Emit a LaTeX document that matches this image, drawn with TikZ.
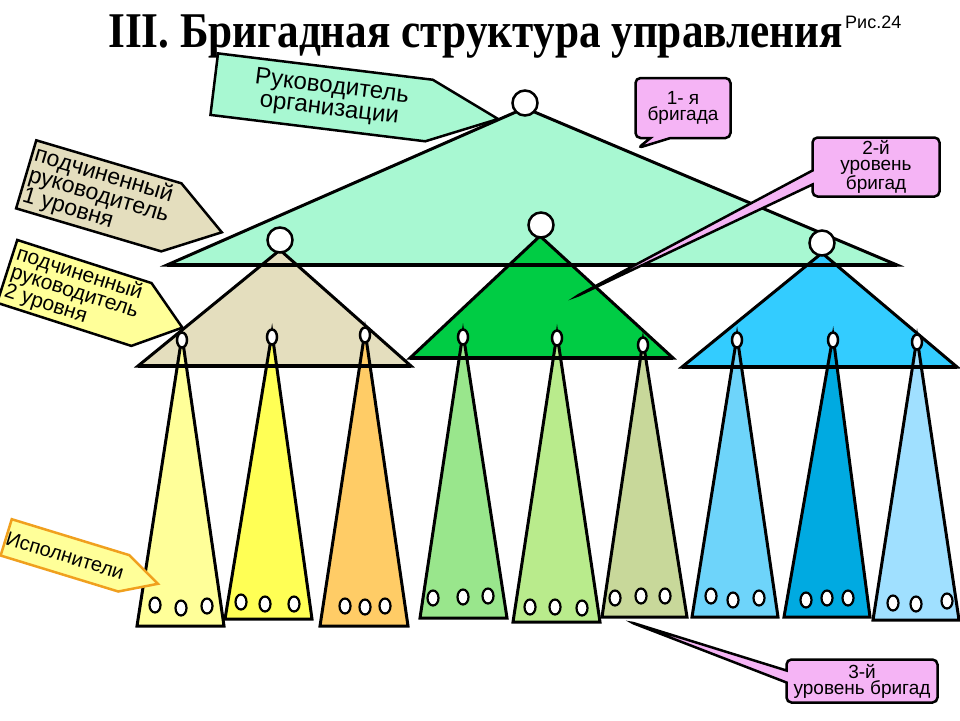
\documentclass[tikz,border=0pt]{standalone}
\usepackage{fontspec}
\setmainfont{Liberation Serif}
\setsansfont{Liberation Sans}
\usepackage{tikz}
\usetikzlibrary{positioning,shapes.geometric,shapes.symbols,shapes.callouts}
\definecolor{cmint}{RGB}{168,248,210}
\definecolor{ctan}{RGB}{228,222,190}
\definecolor{cgreen}{RGB}{0,204,68}
\definecolor{cblue}{RGB}{51,204,255}
\definecolor{ta}{RGB}{255,255,153}
\definecolor{tb}{RGB}{255,255,85}
\definecolor{tc}{RGB}{255,204,102}
\definecolor{td}{RGB}{153,230,140}
\definecolor{te}{RGB}{185,235,140}
\definecolor{tf}{RGB}{200,216,154}
\definecolor{tg}{RGB}{110,212,250}
\definecolor{th}{RGB}{0,170,225}
\definecolor{ti}{RGB}{160,224,255}
\definecolor{cpink}{RGB}{245,180,245}
\definecolor{corange}{RGB}{240,160,30}

\begin{document}
\begin{tikzpicture}[x=1pt,y=-1pt,
  lbl/.style={font=\sffamily\fontsize{24}{22}\selectfont},
  sig/.style={signal,signal to=east,draw=black,line width=2.5pt,inner sep=3pt,lbl},
  note/.style={rectangle callout,draw=black,line width=2.5pt,fill=cpink,rounded corners=5pt,
    align=center,inner sep=2pt,font=\sffamily\fontsize{19}{16}\selectfont},
  tri/.style={draw=black,line width=3pt},
  base/.style={draw=black,line width=3.5pt},
  head/.style={circle,draw=black,fill=white,line width=2.5pt,minimum size=25pt,inner sep=0pt},
  chief/.style={ellipse,draw=black,fill=white,line width=2.5pt,minimum width=10pt,minimum height=15pt,inner sep=0pt},
  work/.style={ellipse,draw=black,fill=white,line width=2.2pt,minimum width=11pt,minimum height=15pt,inner sep=0pt},
]
\useasboundingbox[fill=white] (0,0) rectangle (960,720);

% title
\node[anchor=base west,inner sep=0pt,font=\bfseries\fontsize{50}{50}\selectfont] (title) at (108,47)
  {\scalebox{0.865}[1]{III. Бригадная структура управления}};
\node[anchor=base west,inner sep=0pt,font=\sffamily\fontsize{18}{18}\selectfont] (fig) at (845,28) {Рис.24};

% 1st and 2nd level brigades
\filldraw[tri,fill=cmint] (167,265) -- (525,108) -- (897,265) -- cycle;
\filldraw[tri,fill=ctan] (138,366) -- (280,250) -- (411,366) -- cycle;
\filldraw[tri,fill=cgreen] (410,358) -- (540,236) -- (673,358) -- cycle;
\filldraw[tri,fill=cblue] (682,367) -- (822,253) -- (957,367) -- cycle;
\draw[base] (167,265) -- (897,265);

% 3rd level brigades
\foreach \i/\x/\y/\l/\r/\b/\c in {1/182/340/137/224/626/ta, 2/272/337/225/312/619/tb,
    3/365/335/320/408/626/tc, 4/463/337/420/507/618/td, 5/557/338/513/600/622/te,
    6/643/345/602/687/617/tf, 7/737/340/692/778/617/tg, 8/833/340/784/870/617/th,
    9/917/342/873/959/620/ti}
  \filldraw[tri,fill=\c] (\l,\b) -- (\x,\y-4) -- (\r,\b) -- cycle;

\draw[base] (138,366) -- (411,366);
\draw[base] (410,358) -- (673,358);
\draw[base] (682,367) -- (957,367);

% heads
\node[head] (top) at (525,103) {};
\node[head] (lead1) at (280,240) {};
\node[head] (lead2) at (541,225) {};
\node[head] (lead3) at (822,243) {};
\foreach \i/\x/\y in {1/182/340, 2/272/337, 3/365/335, 4/463/337, 5/557/338,
    6/643/345, 7/737/340, 8/833/340, 9/917/342}
  \node[chief] (chief\i) at (\x,\y) {};

% workers
\foreach \i/\ax/\ay/\bx/\by/\cx/\cy in {1/155/605/181/608/207/606, 2/241/602/265/604/294/604,
    3/345/606/365/607/385/606, 4/433/598/463/597/488/596, 5/530/607/555/607/582/608,
    6/615/598/641/596/665/596, 7/711/596/733/600/759/598, 8/806/600/827/598/848/598,
    9/893/603/916/604/947/601}
{
  \node[work] (w\i a) at (\ax,\ay) {};
  \node[work] (w\i b) at (\bx,\by) {};
  \node[work] (w\i c) at (\cx,\cy) {};
}

% labels on the left
\node[sig,fill=cmint,rotate=-7,anchor=west,minimum width=286pt,minimum height=62pt,
  signal pointer angle=48,align=center] (boss) at (213,84)
  {\hspace*{18pt}Руководитель\\\hspace*{18pt}организации};
\node[sig,fill=ctan,rotate=-16.5,anchor=west,minimum width=202pt,minimum height=71pt,
  signal pointer angle=68,align=left,font=\sffamily\fontsize{23}{21}\selectfont] (sub1) at (25,174)
  {подчиненный\\руководитель\\1 уровня};
\node[sig,fill=ta,rotate=-17.8,anchor=west,minimum width=184pt,minimum height=66pt,
  signal pointer angle=75,align=left,font=\sffamily\fontsize{21}{19}\selectfont] (sub2) at (6,271)
  {подчиненный\\руководитель\\2 уровня};
\node[sig,fill=ta,draw=corange,rotate=-17,anchor=west,minimum width=149pt,minimum height=38pt,
  signal pointer angle=56,inner sep=0.5pt,font=\sffamily\fontsize{20}{20}\selectfont] (exec) at (5,537) {Исполнители};

% brigade notes
\coordinate (p1) at (638,148);
\coordinate (p2) at (575,297);
\coordinate (p3) at (630,622);
\node[note,callout absolute pointer=(p1),callout pointer width=20pt,minimum width=95pt,
  minimum height=60pt] (brig1) at (683,108) {1- я\\бригада};
\node[note,callout absolute pointer=(p2),callout pointer width=14pt,minimum width=127pt,
  minimum height=59pt] (brig2) at (876,167) {2-й\\уровень\\бригад};
\node[note,callout absolute pointer=(p3),callout pointer width=12pt,minimum width=151pt,
  minimum height=43pt] (brig3) at (862,681) {3-й\\уровень бригад};
\end{tikzpicture}
\end{document}
